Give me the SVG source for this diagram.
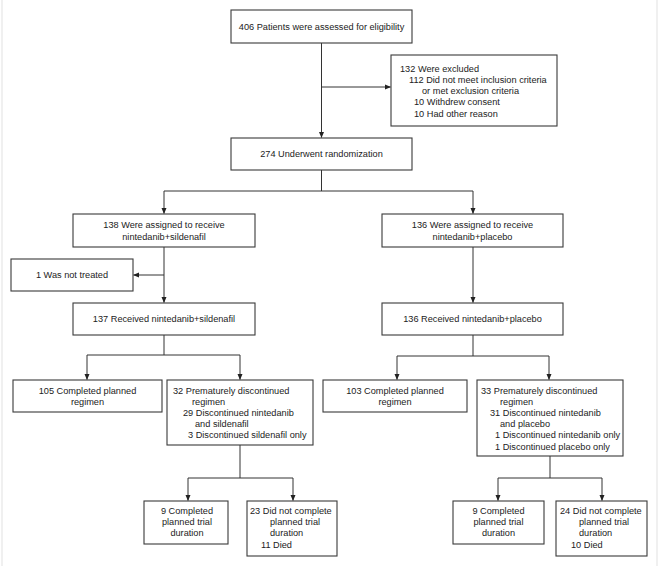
<svg xmlns="http://www.w3.org/2000/svg" width="660" height="566" viewBox="0 0 660 566">
<defs>
<marker id="arr" markerWidth="6" markerHeight="6" refX="5.5" refY="3" orient="auto" markerUnits="userSpaceOnUse">
<path d="M0,0.5 L6,3 L0,5.5 Z" fill="#222"/>
</marker>
<style>
.box{fill:#fff;stroke:#3a3a3a;stroke-width:1.1}
.t{font-family:"Liberation Sans",Arial,sans-serif;font-size:9.2px;fill:#222}
.c{text-anchor:middle}
.ln{fill:none;stroke:#333;stroke-width:1}
.frame{stroke:#e6e6e6;stroke-width:1.2}
</style>
</defs>
<rect width="660" height="566" fill="#fff"/>
<line class="frame" x1="2" y1="0" x2="2" y2="566"/>
<line class="frame" x1="657" y1="0" x2="657" y2="566"/>

<g id="connectors">
<path class="ln" d="M321.5,43 V137.5" marker-end="url(#arr)"/>
<path class="ln" d="M321.5,87 H390.5" marker-end="url(#arr)"/>
<path class="ln" d="M321.5,170 V191"/>
<path class="ln" d="M164,191 H473"/>
<path class="ln" d="M164,191 V213.5" marker-end="url(#arr)"/>
<path class="ln" d="M473,191 V213.5" marker-end="url(#arr)"/>
<path class="ln" d="M164,247 V302.5" marker-end="url(#arr)"/>
<path class="ln" d="M164,275 H133.5" marker-end="url(#arr)"/>
<path class="ln" d="M473,247 V302.5" marker-end="url(#arr)"/>
<path class="ln" d="M164,335 V355"/>
<path class="ln" d="M87,355 H240"/>
<path class="ln" d="M87,355 V379.5" marker-end="url(#arr)"/>
<path class="ln" d="M240,355 V379.5" marker-end="url(#arr)"/>
<path class="ln" d="M473,335 V356"/>
<path class="ln" d="M397,356 H549"/>
<path class="ln" d="M397,356 V379.5" marker-end="url(#arr)"/>
<path class="ln" d="M549,356 V379.5" marker-end="url(#arr)"/>
<path class="ln" d="M240,445 V478"/>
<path class="ln" d="M188,478 H293"/>
<path class="ln" d="M188,478 V500.5" marker-end="url(#arr)"/>
<path class="ln" d="M293,478 V500.5" marker-end="url(#arr)"/>
<path class="ln" d="M550,456 V478"/>
<path class="ln" d="M498,478 H602"/>
<path class="ln" d="M498,478 V500.5" marker-end="url(#arr)"/>
<path class="ln" d="M602,478 V500.5" marker-end="url(#arr)"/>
</g>

<g id="assessed">
<rect class="box" x="231" y="10" width="181" height="33"/>
<text class="t c" x="321.5" y="30">406 Patients were assessed for eligibility</text>
</g>

<g id="excluded">
<rect class="box" x="391" y="55" width="166" height="71"/>
<text class="t" x="400" y="72">132 Were excluded</text>
<text class="t" x="409" y="83">112 Did not meet inclusion criteria</text>
<text class="t" x="422" y="94">or met exclusion criteria</text>
<text class="t" x="414" y="105">10 Withdrew consent</text>
<text class="t" x="414" y="117">10 Had other reason</text>
</g>

<g id="randomized">
<rect class="box" x="231" y="138" width="181" height="32"/>
<text class="t c" x="321.5" y="157">274 Underwent randomization</text>
</g>

<g id="assigned-sildenafil">
<rect class="box" x="73" y="214" width="182" height="33"/>
<text class="t c" x="164" y="228">138 Were assigned to receive</text>
<text class="t c" x="164" y="240">nintedanib+sildenafil</text>
</g>

<g id="assigned-placebo">
<rect class="box" x="382" y="214" width="181" height="33"/>
<text class="t c" x="472.5" y="228">136 Were assigned to receive</text>
<text class="t c" x="472.5" y="240">nintedanib+placebo</text>
</g>

<g id="not-treated">
<rect class="box" x="11" y="259" width="122" height="32"/>
<text class="t c" x="72" y="278">1 Was not treated</text>
</g>

<g id="received-sildenafil">
<rect class="box" x="73" y="303" width="182" height="32"/>
<text class="t c" x="164" y="322">137 Received nintedanib+sildenafil</text>
</g>

<g id="received-placebo">
<rect class="box" x="382" y="303" width="181" height="32"/>
<text class="t c" x="472.5" y="322">136 Received nintedanib+placebo</text>
</g>

<g id="completed-105">
<rect class="box" x="13" y="380" width="149" height="32"/>
<text class="t c" x="87.5" y="394">105 Completed planned</text>
<text class="t c" x="87.5" y="405">regimen</text>
</g>

<g id="discontinued-32">
<rect class="box" x="167" y="380" width="146" height="65"/>
<text class="t" x="173" y="394">32 Prematurely discontinued</text>
<text class="t" x="192" y="405">regimen</text>
<text class="t" x="183" y="416">29 Discontinued nintedanib</text>
<text class="t" x="195" y="427">and sildenafil</text>
<text class="t" x="188" y="438">3 Discontinued sildenafil only</text>
</g>

<g id="completed-103">
<rect class="box" x="323" y="380" width="144" height="32"/>
<text class="t c" x="395" y="394">103 Completed planned</text>
<text class="t c" x="395" y="405">regimen</text>
</g>

<g id="discontinued-33">
<rect class="box" x="477" y="380" width="146" height="76"/>
<text class="t" x="481" y="394">33 Prematurely discontinued</text>
<text class="t" x="500" y="405">regimen</text>
<text class="t" x="490" y="416">31 Discontinued nintedanib</text>
<text class="t" x="500" y="427">and placebo</text>
<text class="t" x="495" y="438">1 Discontinued nintedanib only</text>
<text class="t" x="495" y="450">1 Discontinued placebo only</text>
</g>

<g id="trial-completed-9a">
<rect class="box" x="144" y="501" width="84" height="43"/>
<text class="t c" x="187" y="514">9 Completed</text>
<text class="t c" x="187" y="525">planned trial</text>
<text class="t c" x="187" y="536">duration</text>
</g>

<g id="trial-not-completed-23">
<rect class="box" x="247" y="501" width="90" height="55"/>
<text class="t" x="250" y="514">23 Did not complete</text>
<text class="t" x="270" y="525">planned trial</text>
<text class="t" x="270" y="536">duration</text>
<text class="t" x="261" y="548">11 Died</text>
</g>

<g id="trial-completed-9b">
<rect class="box" x="453" y="501" width="91" height="43"/>
<text class="t c" x="498.5" y="514">9 Completed</text>
<text class="t c" x="498.5" y="525">planned trial</text>
<text class="t c" x="498.5" y="536">duration</text>
</g>

<g id="trial-not-completed-24">
<rect class="box" x="556" y="501" width="91" height="55"/>
<text class="t" x="560" y="514">24 Did not complete</text>
<text class="t" x="579" y="525">planned trial</text>
<text class="t" x="579" y="536">duration</text>
<text class="t" x="571" y="548">10 Died</text>
</g>
</svg>
